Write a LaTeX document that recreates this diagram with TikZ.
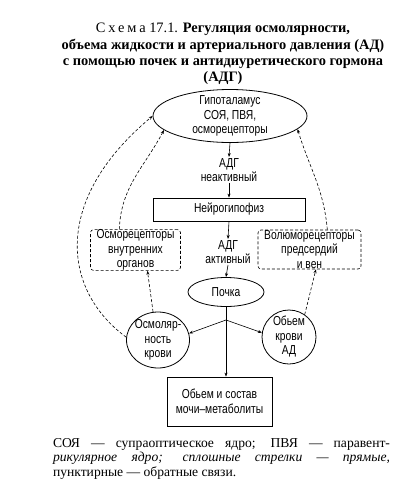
\documentclass[tikz,border=0pt]{standalone}
\usepackage{fontspec}
\setmainfont{Liberation Serif}
\newfontfamily\rgsans[FakeStretch=0.79]{Liberation Sans}
\usetikzlibrary{arrows.meta,shapes.geometric}
\tikzset{
  rgtip/.style={-{Stealth[length=4pt,width=3pt]}},
  rgline/.style={line width=0.6pt, draw=black, rgtip},
  rgfeed/.style={line width=0.6pt, draw=black, dash pattern=on 3pt off 2pt, rgtip},
  rgtext/.style={font=\rgsans\fontsize{13}{14.5}\selectfont, align=center},
  rgoval/.style={ellipse, draw=black, line width=0.8pt, inner sep=-4pt, rgtext},
  rgbox/.style={rectangle, draw=black, line width=0.8pt, inner sep=0pt, rgtext},
  rgrecep/.style={rectangle, rounded corners=3pt, draw=black, line width=0.6pt,
    dash pattern=on 3pt off 2pt, inner sep=0pt, rgtext},
  rglabel/.style={inner sep=1pt, rgtext},
}

\begin{document}
\begin{tikzpicture}[x=1pt, y=-1pt]
\useasboundingbox (0,0) rectangle (404,485);
% title
\node[align=center, font=\fontsize{14.4}{16.2}\selectfont] (title) at (223,54)
  {{\addfontfeature{LetterSpace=20}Схема} 17.1. \textbf{Регуляция осмолярности,}\\
   \textbf{объема жидкости и артериального давления (АД)}\\
   \textbf{с помощью почек и антидиуретического гормона}\\
   \textbf{(АДГ)}};
% nodes
\node[rgoval, minimum width=154, minimum height=53] (hyp) at (230,116)
  {Гипоталамус\\СОЯ, ПВЯ,\\осморецепторы};
\node[rglabel] (adginact) at (229,170) {АДГ\\неактивный};
\node[rgbox, minimum width=152, minimum height=23] (neuro) at (229,209.5) {Нейрогипофиз};
\node[rglabel] (adgact) at (228,252) {АДГ\\активный};
\node[rgoval, minimum width=76, minimum height=29] (kidney) at (226,292) {Почка};
\node[rgrecep, minimum width=90, minimum height=40] (osmrec) at (135.5,250)
  {Осморецепторы\\внутренних\\органов};
\node[rgrecep, minimum width=103, minimum height=39] (volrec) at (309.5,249.5)
  {Волюморецепторы\\предсердий\\и вен};
\node[rgoval, minimum width=63, minimum height=56] (osmol) at (158,340)
  {Осмоляр-\\ность\\крови};
\node[rgoval, minimum width=54, minimum height=54] (volume) at (289,337)
  {Обьем\\крови\\АД};
\node[rgbox, minimum width=105, minimum height=49] (urine) at (219.5,401.5)
  {Обьем и состав\\мочи–метаболиты};
\coordinate (split) at (226,320);
% direct links
\draw[rgline] (hyp.south) -- (adginact.north);
\draw[rgline] (adginact.south) -- (neuro.north);
\draw[rgline] (neuro.south) -- (adgact.north);
\draw[rgline] (adgact.south) -- (kidney.north);
\draw[rgline] (kidney.south) -- (kidney.south |- urine.north);
\draw[rgline] (split) -- (osmol.12);
\draw[rgline] (split) -- (volume.171);
% feedback links
\draw[rgfeed] (osmol.175) .. controls (62,290) and (52,200) .. (hyp.west);
\draw[rgfeed] (osmol.100) -- (osmrec.-60);
\draw[rgfeed] (osmrec.128) to[out=88, in=242] (hyp.192);
\draw[rgfeed] (volume.55) -- (volrec.-72);
\draw[rgfeed] (volrec.48) to[out=95, in=-73] (hyp.-11);
% legend
\node[text width=337pt, align=justify, inner sep=0pt, anchor=north,
  font=\fontsize{13.6}{14.5}\selectfont] (legend) at (221.5,438)
  {СОЯ — супраоптическое ядро; ПВЯ — паравент-\linebreak
   \textit{рикулярное ядро; сплошные стрелки — прямые,}\linebreak
   пунктирные — обратные связи.};
\end{tikzpicture}
\end{document}
